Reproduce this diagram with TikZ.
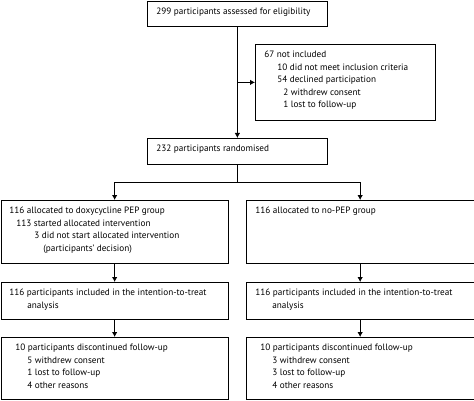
\documentclass[tikz,border=0pt]{standalone}
\usepackage{fontspec}
\setmainfont{PT Sans}
\usetikzlibrary{arrows.meta}
\begin{document}
\begin{tikzpicture}[x=1pt, y=-1pt, line width=0.8pt,
  box/.style={draw, inner sep=0, anchor=north west},
  txt/.style={anchor=north west, inner sep=0, align=left,
    font=\fontsize{9.2}{12.5}\selectfont},
  arr/.style={-{Latex[length=5pt,width=5.5pt]}}]
  \useasboundingbox (0,0) rectangle (474,401);
  % Boxes
  \node[box, minimum width=180, minimum height=25] (screen) at (147,1) {};
  \node[box, minimum width=180, minimum height=76] (excl) at (255,44) {};
  \node[box, minimum width=180, minimum height=26] (rand) at (147,138) {};
  \node[box, minimum width=227.5, minimum height=63] (allocL) at (0.5,200) {};
  \node[box, minimum width=227.5, minimum height=63] (allocR) at (246,200) {};
  \node[box, minimum width=227.5, minimum height=37] (ittL) at (0.5,282) {};
  \node[box, minimum width=227.5, minimum height=37] (ittR) at (246,282) {};
  \node[box, minimum width=227.5, minimum height=62] (fuL) at (0.5,337) {};
  \node[box, minimum width=227.5, minimum height=62] (fuR) at (246,337) {};
  % Texts
  \node[txt] (screen-t) at ([shift={(9,7)}]screen.north west)
    {299 participants assessed for eligibility};
  \node[txt] (excl-t) at ([shift={(9,7)}]excl.north west)
    {67 not included\\
     \hspace*{13pt}10 did not meet inclusion criteria\\
     \hspace*{13pt}54 declined participation\\
     \hspace*{19pt}2 withdrew consent\\
     \hspace*{19pt}1 lost to follow-up};
  \node[txt] (rand-t) at ([shift={(9,7)}]rand.north west)
    {232 participants randomised};
  \node[txt] (allocL-t) at ([shift={(8.5,7)}]allocL.north west)
    {116 allocated to doxycycline PEP group\\
     \hspace*{7pt}113 started allocated intervention\\
     \hspace*{25pt}3 did not start allocated intervention\\
     \hspace*{34pt}(participants’ decision)};
  \node[txt] (allocR-t) at ([shift={(9,7)}]allocR.north west)
    {116 allocated to no-PEP group};
  \node[txt] (ittL-t) at ([shift={(8.5,7)}]ittL.north west)
    {116 participants included in the intention-to-treat\\
     \hspace*{18pt}analysis};
  \node[txt] (ittR-t) at ([shift={(9,7)}]ittR.north west)
    {116 participants included in the intention-to-treat\\
     \hspace*{17pt}analysis};
  \node[txt] (fuL-t) at ([shift={(14.5,7)}]fuL.north west)
    {10 participants discontinued follow-up\\
     \hspace*{12pt}5 withdrew consent\\
     \hspace*{12pt}1 lost to follow-up\\
     \hspace*{12pt}4 other reasons};
  \node[txt] (fuR-t) at ([shift={(14,7)}]fuR.north west)
    {10 participants discontinued follow-up\\
     \hspace*{12pt}3 withdrew consent\\
     \hspace*{12pt}3 lost to follow-up\\
     \hspace*{12pt}4 other reasons};
  % Connectors
  \coordinate (split) at (rand.south |- 0,182);
  \draw[arr] (screen.south) -- (rand.north);
  \draw[arr] (screen.south |- excl.west) -- (excl.west);
  \draw[arr] (rand.south) -- (split) -| (allocL.north);
  \draw[arr] (split) -| (allocR.north);
  \draw[arr] (allocL.south) -- (ittL.north);
  \draw[arr] (allocR.south) -- (ittR.north);
  \draw[arr] (ittL.south) -- (fuL.north);
  \draw[arr] (ittR.south) -- (fuR.north);
\end{tikzpicture}
\end{document}
